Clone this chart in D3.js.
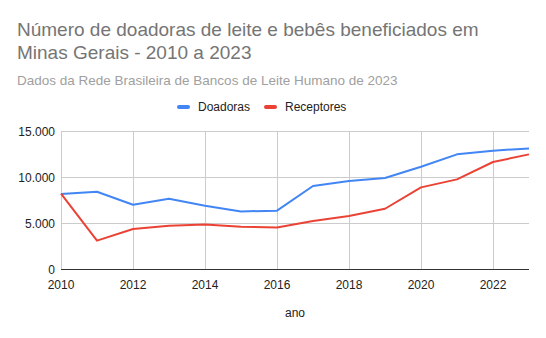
<!DOCTYPE html>
<html><head><meta charset="utf-8">
<script src="https://cdn.jsdelivr.net/npm/d3@7"></script>
<style>body{margin:0;background:#fff}svg{display:block;font-family:"Liberation Sans",Arial,sans-serif}</style>
</head><body>
<svg id="c" width="546" height="338"></svg>
<script>
const years = [2010,2011,2012,2013,2014,2015,2016,2017,2018,2019,2020,2021,2022,2023];
const doadoras = [8150,8400,6990,7640,6880,6260,6340,9020,9570,9890,11120,12460,12860,13110];
const receptores = [8190,3080,4350,4710,4850,4600,4520,5220,5760,6550,8870,9740,11630,12460];
const yTicks = [0,5000,10000,15000];
const xTicks = [2010,2012,2014,2016,2018,2020,2022];
const seriesNames = ["Doadoras","Receptores"];
const colors = ["#4285F4","#EA4335"];

const svg = d3.select("#c");
const x = d3.scaleLinear().domain([2010,2023]).range([61,529]);
const y = d3.scaleLinear().domain([0,15000]).range([269,131]);
const loc = d3.formatLocale({decimal:",",thousands:".",grouping:[3],currency:["",""]});
const fmt = loc.format(",d");

svg.append("text").attr("x",17).attr("y",36).attr("font-size",19).attr("fill","#757575").text("Número de doadoras de leite e bebês beneficiados em");
svg.append("text").attr("x",17).attr("y",59).attr("font-size",19).attr("fill","#757575").text("Minas Gerais - 2010 a 2023");
svg.append("text").attr("x",17).attr("y",84.5).attr("font-size",13.5).attr("fill","#a0a0a0").text("Dados da Rede Brasileira de Bancos de Leite Humano de 2023");

// grid
svg.append("g").selectAll("line").data(yTicks.filter(d=>d>0)).join("line")
  .attr("x1",61).attr("x2",529).attr("y1",d=>Math.round(y(d))+0.5).attr("y2",d=>Math.round(y(d))+0.5)
  .attr("stroke","#cccccc");
svg.append("g").selectAll("line").data(xTicks).join("line")
  .attr("x1",d=>Math.round(x(d))+0.5).attr("x2",d=>Math.round(x(d))+0.5).attr("y1",131).attr("y2",269)
  .attr("stroke","#cccccc");

// y labels
svg.append("g").selectAll("text").data(yTicks).join("text")
  .attr("x",55).attr("y",d=>y(d)+4.5).attr("text-anchor","end").attr("font-size",12).attr("fill","#222")
  .text(d=>fmt(d));
// x labels
svg.append("g").selectAll("text").data(xTicks).join("text")
  .attr("x",d=>x(d)).attr("y",289).attr("text-anchor","middle").attr("font-size",12).attr("fill","#222")
  .text(d=>d);
svg.append("text").attr("x",295).attr("y",317).attr("text-anchor","middle").attr("font-size",12).attr("fill","#222").text("ano");

// lines
const data = [doadoras, receptores];
const line = d3.line().x((d,i)=>x(years[i])).y(d=>y(d));
data.forEach((s,k)=>{
  svg.append("path").attr("d",line(s)).attr("fill","none").attr("stroke",colors[k]).attr("stroke-width",2).attr("stroke-linejoin","round");
});

// baseline
svg.append("line").attr("x1",61).attr("x2",529).attr("y1",269.5).attr("y2",269.5).attr("stroke","#333");

// legend
const lx = [177,264];
seriesNames.forEach((n,k)=>{
  svg.append("rect").attr("x",lx[k]).attr("y",105).attr("width",13).attr("height",4).attr("rx",2).attr("fill",colors[k]);
  svg.append("text").attr("x",lx[k]+21).attr("y",111).attr("font-size",12).attr("fill","#222").text(n);
});
</script>
</body></html>
